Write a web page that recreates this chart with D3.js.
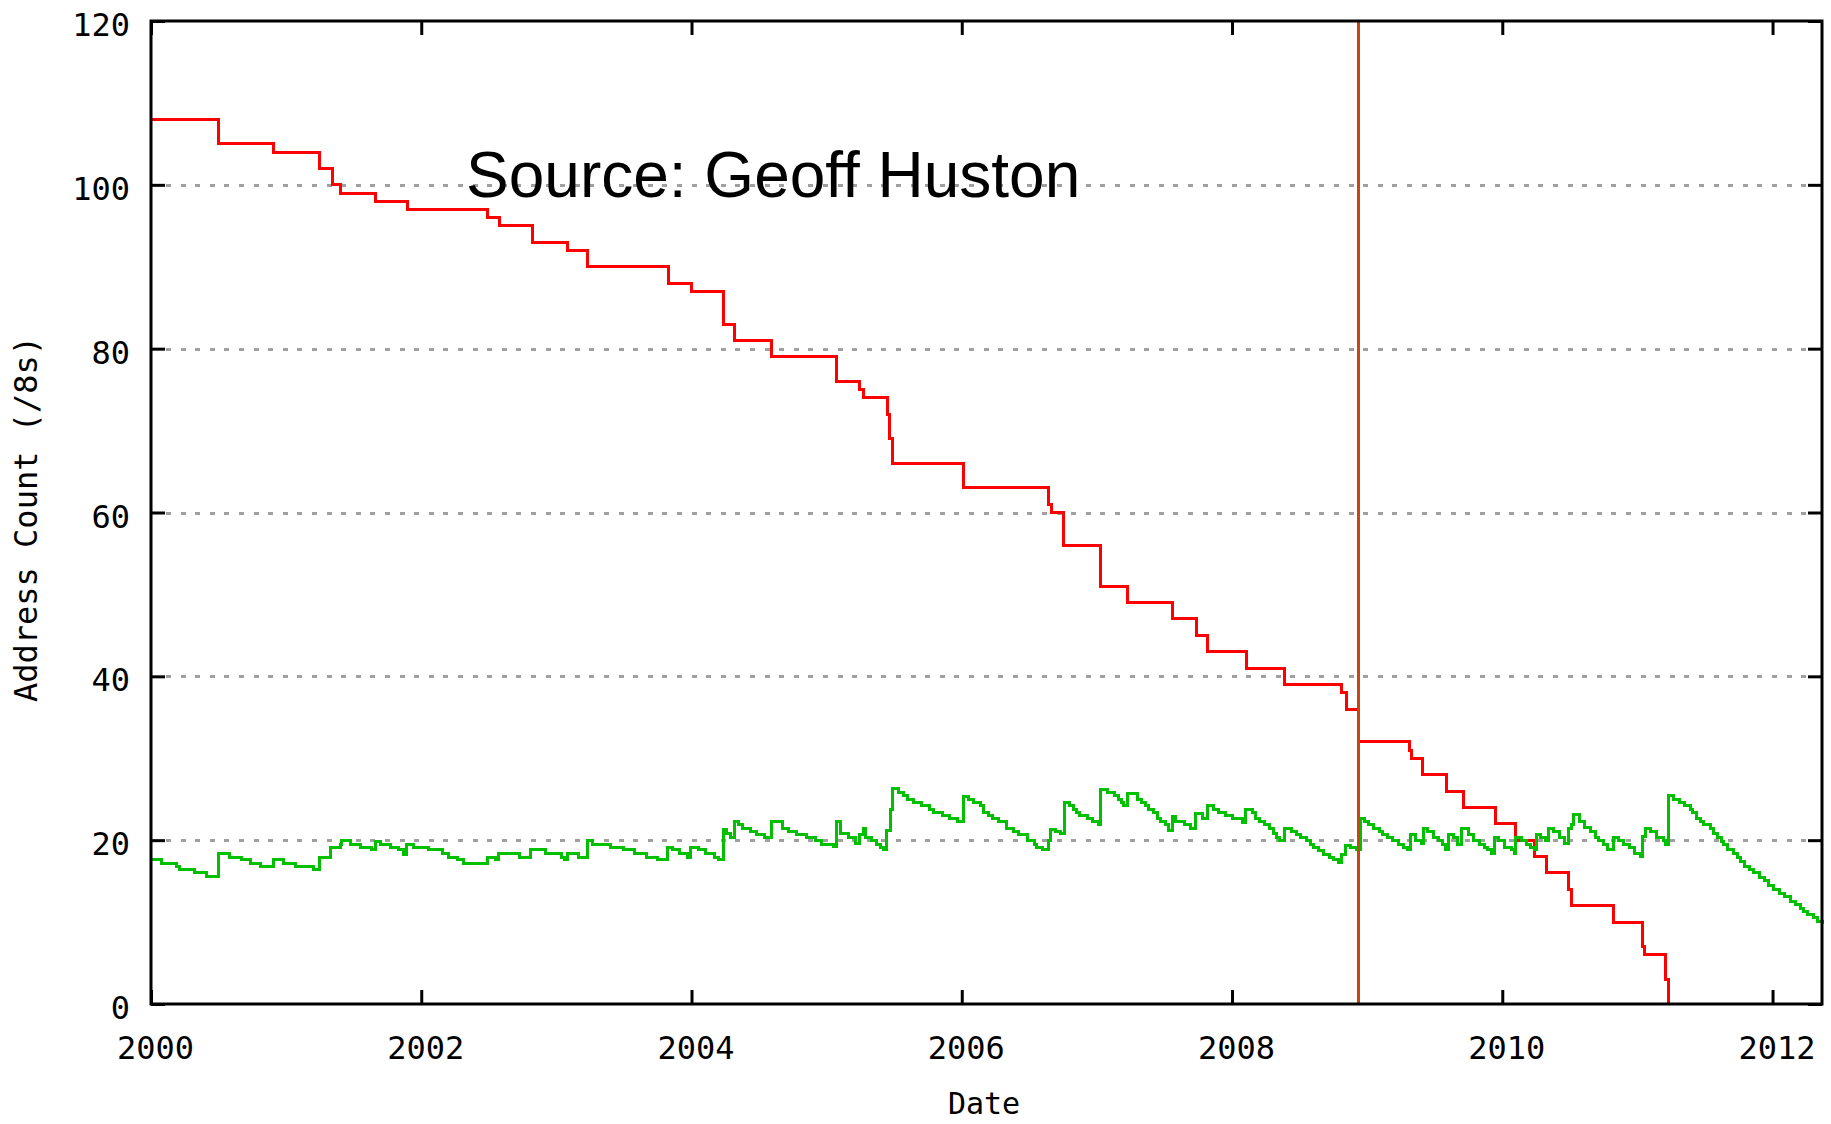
<!DOCTYPE html>
<meta charset="utf-8">
<script src="https://d3js.org/d3.v7.min.js"></script>
<style>
  body { margin: 0; background: #fff; }
</style>
<body>
<div id="chart"></div>
<script>

// tick values
var xTicks = [2000, 2002, 2004, 2006, 2008, 2010, 2012]
var yTicks = [0, 20, 40, 60, 80, 100, 120]
var yGrid = [20, 40, 60, 80, 100]

// red series: remaining pool (step after each date)
var redDates = [2000.0, 2000.50, 2000.91, 2001.25, 2001.34, 2001.40, 2001.66, 2001.90, 2002.49, 2002.58,
  2002.82, 2003.08, 2003.23, 2003.83, 2004.00, 2004.24, 2004.32, 2004.59, 2005.07, 2005.245,
  2005.27, 2005.45, 2005.465, 2005.49, 2006.01, 2006.645, 2006.665, 2006.75, 2007.03, 2007.23,
  2007.56, 2007.74, 2007.82, 2008.11, 2008.39, 2008.81, 2008.85, 2008.935, 2009.31, 2009.33,
  2009.41, 2009.59, 2009.71, 2009.95, 2010.10, 2010.24, 2010.33, 2010.49, 2010.51, 2010.82,
  2011.04, 2011.05, 2011.21, 2011.23]
var redValues = [108, 105, 104, 102, 100, 99, 98, 97, 96, 95,
  93, 92, 90, 88, 87, 83, 81, 79, 76, 75,
  74, 72, 69, 66, 63, 61, 60, 56, 51, 49,
  47, 45, 43, 41, 39, 38, 36, 32, 31, 30,
  28, 26, 24, 22, 20, 18, 16, 14, 12, 10,
  7, 6, 3, 0]

// green series
var greenDates = [2000.00, 2000.08, 2000.19, 2000.21, 2000.32, 2000.41, 2000.50, 2000.58, 2000.67, 2000.74,
  2000.81, 2000.91, 2000.98, 2001.07, 2001.20, 2001.25, 2001.33, 2001.40, 2001.41, 2001.48,
  2001.55, 2001.63, 2001.66, 2001.70, 2001.77, 2001.83, 2001.87, 2001.89, 2001.94, 2002.05,
  2002.16, 2002.20, 2002.27, 2002.31, 2002.49, 2002.55, 2002.57, 2002.73, 2002.81, 2002.92,
  2003.04, 2003.06, 2003.08, 2003.16, 2003.23, 2003.27, 2003.40, 2003.50, 2003.58, 2003.67,
  2003.75, 2003.82, 2003.86, 2003.91, 2003.97, 2003.99, 2004.05, 2004.10, 2004.17, 2004.20,
  2004.24, 2004.26, 2004.29, 2004.32, 2004.35, 2004.38, 2004.44, 2004.48, 2004.54, 2004.59,
  2004.67, 2004.72, 2004.78, 2004.85, 2004.92, 2004.96, 2005.05, 2005.07, 2005.10, 2005.16,
  2005.21, 2005.24, 2005.27, 2005.29, 2005.33, 2005.37, 2005.40, 2005.42, 2005.44, 2005.47,
  2005.49, 2005.53, 2005.57, 2005.60, 2005.64, 2005.70, 2005.76, 2005.79, 2005.86, 2005.91,
  2005.97, 2006.01, 2006.05, 2006.09, 2006.14, 2006.16, 2006.20, 2006.23, 2006.27, 2006.33,
  2006.38, 2006.42, 2006.49, 2006.54, 2006.55, 2006.60, 2006.64, 2006.66, 2006.69, 2006.73,
  2006.76, 2006.80, 2006.83, 2006.85, 2006.87, 2006.93, 2006.97, 2007.01, 2007.03, 2007.08,
  2007.13, 2007.16, 2007.18, 2007.20, 2007.23, 2007.30, 2007.33, 2007.36, 2007.38, 2007.42,
  2007.45, 2007.47, 2007.51, 2007.53, 2007.56, 2007.58, 2007.65, 2007.69, 2007.73, 2007.78,
  2007.82, 2007.86, 2007.90, 2007.95, 2008.00, 2008.08, 2008.10, 2008.15, 2008.17, 2008.20,
  2008.24, 2008.28, 2008.31, 2008.33, 2008.35, 2008.39, 2008.44, 2008.48, 2008.51, 2008.55,
  2008.58, 2008.60, 2008.64, 2008.68, 2008.72, 2008.75, 2008.79, 2008.81, 2008.84, 2008.88,
  2008.92, 2008.95, 2008.98, 2009.01, 2009.05, 2009.09, 2009.11, 2009.15, 2009.19, 2009.23,
  2009.27, 2009.30, 2009.32, 2009.36, 2009.40, 2009.42, 2009.45, 2009.49, 2009.53, 2009.56,
  2009.58, 2009.60, 2009.64, 2009.67, 2009.70, 2009.75, 2009.79, 2009.83, 2009.87, 2009.89,
  2009.92, 2009.94, 2009.97, 2010.02, 2010.07, 2010.09, 2010.10, 2010.14, 2010.18, 2010.21,
  2010.24, 2010.25, 2010.28, 2010.32, 2010.34, 2010.38, 2010.42, 2010.46, 2010.49, 2010.51,
  2010.53, 2010.57, 2010.61, 2010.65, 2010.69, 2010.71, 2010.75, 2010.78, 2010.82, 2010.86,
  2010.90, 2010.94, 2010.98, 2011.02, 2011.04, 2011.06, 2011.10, 2011.14, 2011.19, 2011.21,
  2011.23, 2011.27, 2011.31, 2011.35, 2011.39, 2011.41, 2011.44, 2011.47, 2011.49, 2011.54,
  2011.56, 2011.59, 2011.62, 2011.64, 2011.67, 2011.71, 2011.74, 2011.76, 2011.79, 2011.83,
  2011.86, 2011.90, 2011.94, 2011.97, 2012.01, 2012.05, 2012.09, 2012.13, 2012.17, 2012.21,
  2012.23, 2012.26, 2012.30, 2012.33, 2012.366]
var greenValues = [17.6, 17.2, 16.8, 16.4, 16.0, 15.6, 18.4, 17.9, 17.6, 17.2,
  16.8, 17.6, 17.2, 16.8, 16.4, 17.9, 19.1, 19.5, 19.9, 19.5,
  19.1, 18.8, 19.8, 19.5, 19.1, 18.8, 18.3, 19.5, 19.1, 18.8,
  18.4, 17.9, 17.6, 17.2, 17.9, 17.6, 18.4, 17.9, 18.8, 18.4,
  17.9, 17.6, 18.4, 17.9, 19.9, 19.5, 19.1, 18.8, 18.4, 17.9,
  17.6, 19.1, 18.8, 18.4, 17.9, 19.1, 18.8, 18.4, 17.9, 17.6,
  21.3, 20.8, 20.3, 22.3, 21.9, 21.4, 21.1, 20.7, 20.3, 22.3,
  21.4, 21.1, 20.7, 20.3, 19.9, 19.5, 19.2, 22.3, 20.8, 20.3,
  19.6, 20.7, 21.4, 20.3, 19.9, 19.5, 19.1, 18.8, 21.2, 23.7,
  26.3, 25.8, 25.4, 25.0, 24.6, 24.2, 23.8, 23.4, 23.0, 22.7,
  22.3, 25.3, 25.0, 24.6, 24.2, 23.4, 23.0, 22.7, 22.3, 21.4,
  21.1, 20.7, 19.9, 19.5, 19.1, 18.8, 19.9, 21.3, 21.1, 20.8,
  24.6, 24.2, 23.8, 23.4, 23.0, 22.7, 22.3, 21.9, 26.2, 25.8,
  25.4, 25.0, 24.6, 24.2, 25.7, 25.0, 24.6, 24.2, 23.8, 23.4,
  22.7, 22.3, 21.9, 21.2, 22.9, 22.3, 21.9, 21.4, 23.3, 22.7,
  24.2, 23.8, 23.4, 23.0, 22.7, 22.1, 23.8, 23.4, 22.7, 22.3,
  21.9, 21.4, 20.8, 20.3, 19.9, 21.4, 21.1, 20.7, 20.3, 19.9,
  19.5, 19.1, 18.7, 18.3, 17.9, 17.6, 17.3, 18.2, 19.4, 19.1,
  18.8, 22.7, 22.3, 21.9, 21.4, 21.1, 20.7, 20.3, 19.9, 19.5,
  19.1, 18.8, 20.7, 19.9, 19.6, 21.4, 21.1, 20.3, 19.9, 19.5,
  18.8, 20.7, 20.3, 19.5, 21.4, 20.7, 19.9, 19.5, 19.1, 18.8,
  18.4, 20.3, 19.9, 19.1, 18.8, 18.4, 20.3, 19.9, 19.5, 19.1,
  18.8, 20.7, 20.3, 19.9, 21.4, 21.1, 20.3, 19.6, 21.4, 21.9,
  23.1, 22.3, 21.6, 21.1, 20.3, 19.9, 19.5, 18.8, 20.3, 19.9,
  19.5, 19.1, 18.4, 18.0, 20.4, 21.4, 21.1, 20.3, 19.9, 19.5,
  25.4, 25.0, 24.6, 24.2, 23.8, 23.4, 22.7, 22.3, 21.9, 21.4,
  20.8, 20.3, 19.8, 19.5, 18.8, 18.4, 17.9, 17.4, 16.8, 16.4,
  16.0, 15.5, 15.1, 14.5, 14.0, 13.5, 13.1, 12.5, 12.1, 11.7,
  11.3, 10.9, 10.5, 10.1, 9.8]

// marker date (vertical line)
var markerDate = 2008.935

var width = 1831
    height = 1124
    left = 151
    right = 1822
    top_ = 21
    bottom = 1004

var svg = d3.select("#chart")
  .append("svg")
    .attr("width", width)
    .attr("height", height)
    .style("background", "#fff")

var x = d3.scaleLinear().domain([2000, 2012.366]).range([left, right])
var y = d3.scaleLinear().domain([0, 120]).range([bottom, top_])

var monoFont = "DejaVu Sans Mono"

// grid
svg.append("g")
  .selectAll("line")
  .data(yGrid)
  .enter()
  .append("line")
    .attr("x1", left + 15)
    .attr("x2", right - 15)
    .attr("y1", function(d) { return Math.round(y(d)) + 0.5 })
    .attr("y2", function(d) { return Math.round(y(d)) + 0.5 })
    .attr("stroke", "#a0a0a0")
    .attr("stroke-width", 3)
    .attr("stroke-dasharray", "5,9.6")
    .attr("shape-rendering", "crispEdges")

var stepLine = d3.line()
  .x(function(d) { return x(d[0]) })
  .y(function(d) { return y(d[1]) })
  .curve(d3.curveStepAfter)

var redData = redDates.map(function(d, i) { return [d, redValues[i]] })
var greenData = greenDates.map(function(d, i) { return [d, greenValues[i]] })

svg.append("path")
  .datum(redData)
  .attr("d", stepLine)
  .attr("fill", "none")
  .attr("stroke", "#ff0000")
  .attr("stroke-width", 3)
  .attr("shape-rendering", "crispEdges")

svg.append("path")
  .datum(greenData)
  .attr("d", stepLine)
  .attr("fill", "none")
  .attr("stroke", "#00c000")
  .attr("stroke-width", 3)
  .attr("shape-rendering", "crispEdges")

// vertical marker
svg.append("line")
  .attr("x1", x(markerDate))
  .attr("x2", x(markerDate))
  .attr("y1", top_)
  .attr("y2", bottom)
  .attr("stroke", "#c84610")
  .attr("stroke-width", 3)
  .attr("shape-rendering", "crispEdges")

// axes (ticks point inwards)
var xAxis = svg.append("g")
  .attr("transform", "translate(0," + bottom + ")")
  .call(d3.axisBottom(x).tickValues(xTicks).tickFormat(d3.format("d")).tickSizeInner(-14).tickSizeOuter(0))
xAxis.select(".domain").remove()
xAxis.selectAll("line").attr("stroke-width", 3)
xAxis.selectAll("text")
  .attr("y", 55).attr("dy", null).attr("dx", 4)
  .attr("font-family", monoFont).attr("font-size", 32)

var yAxis = svg.append("g")
  .attr("transform", "translate(" + left + ",0)")
  .call(d3.axisLeft(y).tickValues(yTicks).tickSizeInner(-14).tickSizeOuter(0))
yAxis.select(".domain").remove()
yAxis.selectAll("line").attr("stroke-width", 3)
yAxis.selectAll("text")
  .attr("x", -21).attr("dy", null).attr("y", 14.5)
  .attr("font-family", monoFont).attr("font-size", 32)

var topAxis = svg.append("g")
  .attr("transform", "translate(0," + top_ + ")")
  .call(d3.axisTop(x).tickValues(xTicks).tickFormat("").tickSizeInner(-14).tickSizeOuter(0))
topAxis.select(".domain").remove()
topAxis.selectAll("line").attr("stroke-width", 3)

var rightAxis = svg.append("g")
  .attr("transform", "translate(" + right + ",0)")
  .call(d3.axisRight(y).tickValues(yTicks).tickFormat("").tickSizeInner(-14).tickSizeOuter(0))
rightAxis.select(".domain").remove()
rightAxis.selectAll("line").attr("stroke-width", 3)

// border
svg.append("rect")
  .attr("x", left)
  .attr("y", top_)
  .attr("width", right - left)
  .attr("height", bottom - top_)
  .attr("fill", "none")
  .attr("stroke", "#000")
  .attr("stroke-width", 3)

// labels
svg.append("text")
  .attr("transform", "translate(37,519) rotate(-90)")
  .attr("text-anchor", "middle")
  .attr("font-family", monoFont)
  .attr("font-size", 32)
  .text("Address Count (/8s)")

svg.append("text")
  .attr("x", 984)
  .attr("y", 1114)
  .attr("text-anchor", "middle")
  .attr("font-family", monoFont)
  .attr("font-size", 30)
  .text("Date")

svg.append("text")
  .attr("x", 466)
  .attr("y", 197)
  .attr("font-family", "Liberation Sans, Arial, sans-serif")
  .attr("font-size", 64)
  .text("Source: Geoff Huston")

</script>
</body>
</html>
